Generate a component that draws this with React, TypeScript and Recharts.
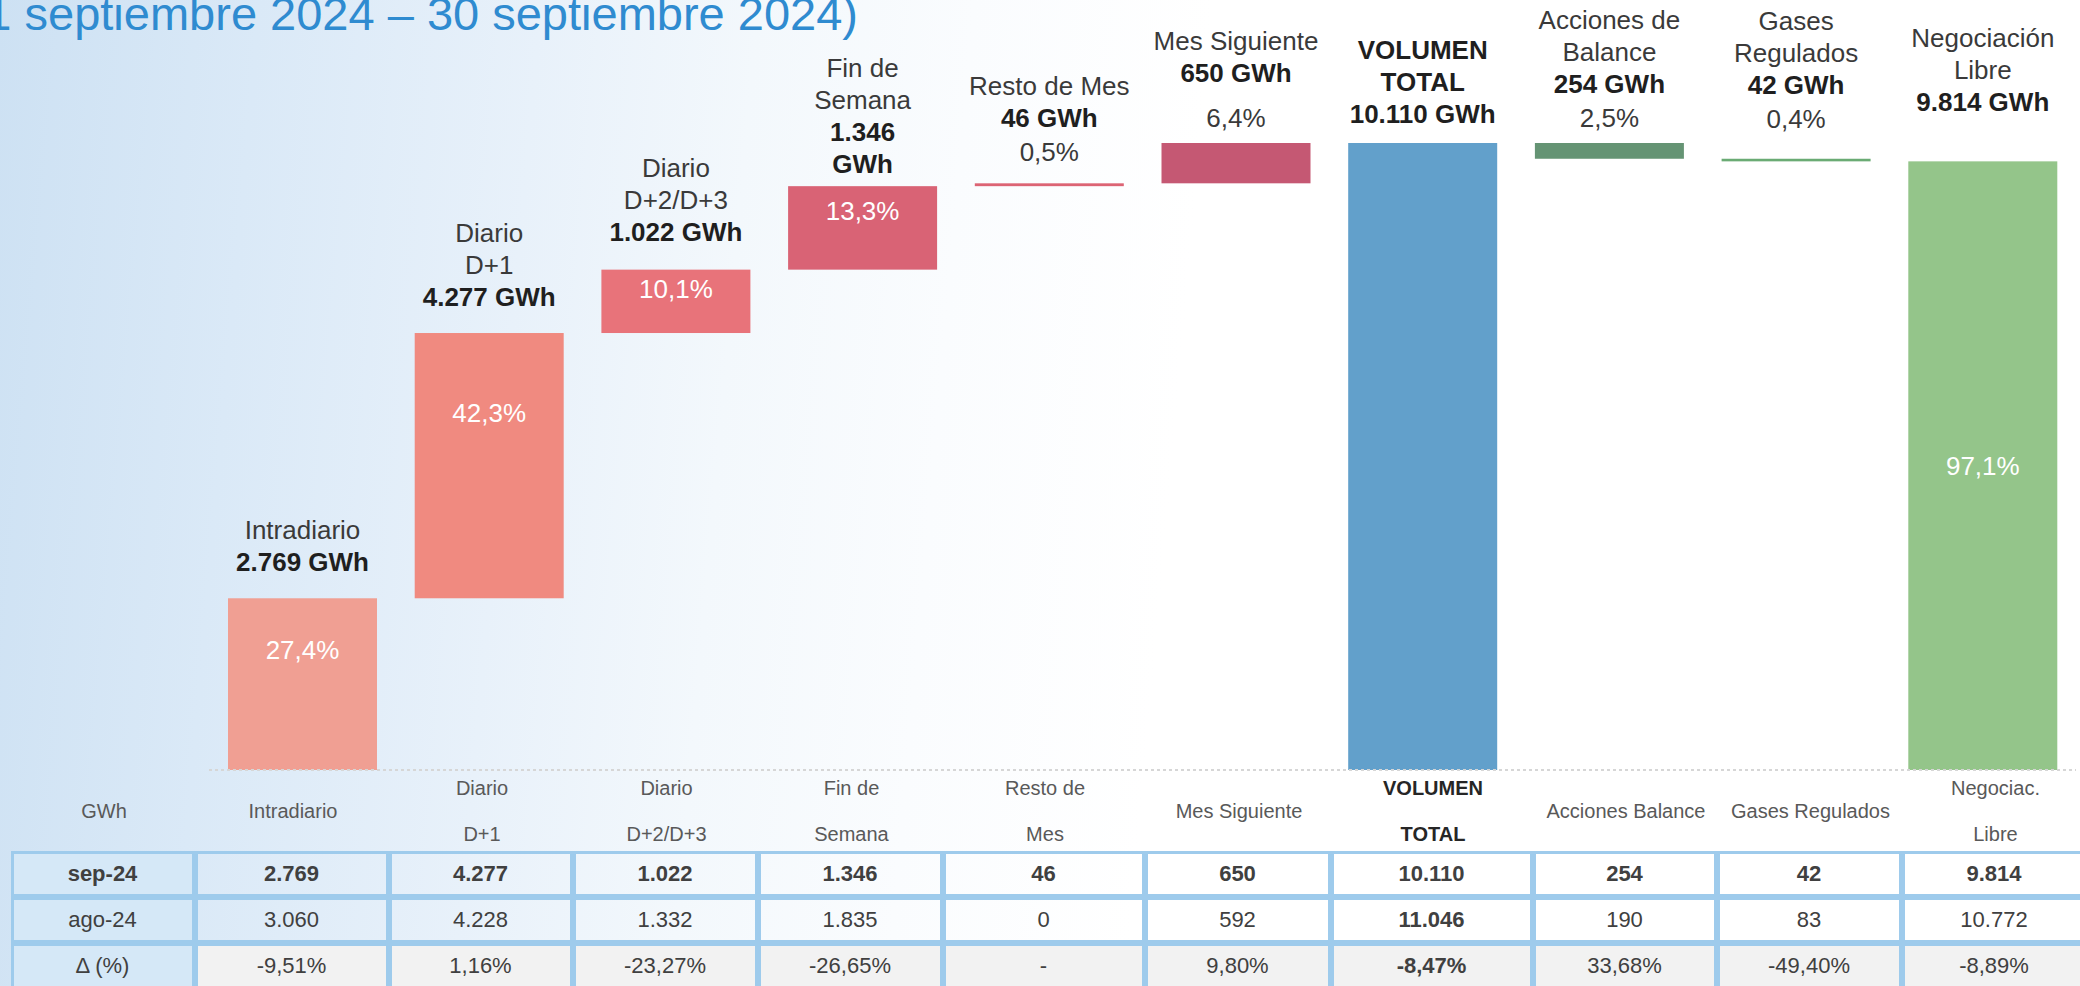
import { BarChart, Bar, XAxis, YAxis, Cell, ReferenceLine } from 'recharts';

// --- data ---
const categories = [
  'Intradiario', 'Diario D+1', 'Diario D+2/D+3', 'Fin de Semana', 'Resto de Mes',
  'Mes Siguiente', 'VOLUMEN TOTAL', 'Acciones de Balance', 'Gases Regulados', 'Negociación Libre',
];
const nameLines = [
  ['Intradiario'], ['Diario', 'D+1'], ['Diario', 'D+2/D+3'], ['Fin de', 'Semana'], ['Resto de Mes'],
  ['Mes Siguiente'], ['VOLUMEN', 'TOTAL'], ['Acciones de', 'Balance'], ['Gases', 'Regulados'], ['Negociación', 'Libre'],
];
const sep24 = [2769, 4277, 1022, 1346, 46, 650, 10110, 254, 42, 9814];
const steps = ['up', 'up', 'up', 'up', 'up', 'up', 'total', 'down', 'down', 'total'];
const shares = ['27,4%', '42,3%', '10,1%', '13,3%', '0,5%', '6,4%', '', '2,5%', '0,4%', '97,1%'];
const shareInside = [true, true, true, true, false, false, false, false, false, true];

const ago24 = [3060, 4228, 1332, 1835, 0, 592, 11046, 190, 83, 10772];
const deltas = ['-9,51%', '1,16%', '-23,27%', '-26,65%', '-', '9,80%', '-8,47%', '33,68%', '-49,40%', '-8,89%'];
const tableHeaders = [
  ['GWh'], ['Intradiario'], ['Diario', 'D+1'], ['Diario', 'D+2/D+3'], ['Fin de', 'Semana'], ['Resto de', 'Mes'],
  ['Mes Siguiente'], ['VOLUMEN', 'TOTAL'], ['Acciones Balance'], ['Gases Regulados'], ['Negociac.', 'Libre'],
];
const rowLabels = ['sep-24', 'ago-24', 'Δ (%)'];

// --- styles ---
const barColors = ['#f09f93', '#f08a80', '#e8737a', '#d96375', '#dc6474', '#c55873', '#62a0cb', '#659474', '#6aab74', '#94c58a'];
const labelGap = [36, 36, 38, 22, 31, 25, 29, 25, 40, 59];
const colWidths = [184, 194, 184, 185, 185, 202, 186, 202, 184, 185, 185];
const FONT = '"Liberation Sans", Arial, sans-serif';
const TOTAL_IDX = 6;

const fmt = (n: number) => String(n).replace(/\B(?=(\d{3})+(?!\d))/g, '.');

// waterfall: invisible base + visible segment
let running = 0;
const data = sep24.map((v, i) => {
  let base = 0;
  if (steps[i] === 'up') { base = running; running += v; }
  else if (steps[i] === 'total') { base = 0; running = v; }
  else { running -= v; base = running; }
  return { i, name: categories[i], base, value: v };
});

const WaterfallBar = (props: any) => {
  const { x, y, width, height } = props;
  const i = props.payload?.i ?? props.index;
  const valueLines = i === 3 ? [fmt(sep24[i]), 'GWh'] : [fmt(sep24[i]) + ' GWh'];
  const lines: { t: string; bold: boolean; gap: number }[] = [];
  nameLines[i].forEach(t => lines.push({ t, bold: i === TOTAL_IDX, gap: 32 }));
  valueLines.forEach(t => lines.push({ t, bold: true, gap: 32 }));
  if (shares[i] && !shareInside[i]) lines.push({ t: shares[i], bold: false, gap: i === 5 ? 45 : 34 });

  const placed: { t: string; bold: boolean; cy: number }[] = [];
  let cy = y - labelGap[i];
  for (let k = lines.length - 1; k >= 0; k--) {
    placed.unshift({ t: lines[k].t, bold: lines[k].bold, cy });
    cy -= lines[k].gap;
  }
  const insideY = y + height * (i === sep24.length - 1 ? 0.5 : 0.3);

  return (
    <g>
      <rect x={x} y={y} width={width} height={Math.max(height, 0)} fill={barColors[i]} />
      {placed.map((l, k) => (
        <text key={k} x={x + width / 2} y={l.cy} textAnchor="middle" dominantBaseline="central"
          fontFamily={FONT} fontSize={26} fontWeight={l.bold ? 700 : 400} fill={l.bold ? '#1f1f1f' : '#3a3a3a'}>
          {l.t}
        </text>
      ))}
      {shareInside[i] && (
        <text x={x + width / 2} y={insideY} textAnchor="middle" dominantBaseline="central"
          fontFamily={FONT} fontSize={26} fill="#ffffff">
          {shares[i]}
        </text>
      )}
    </g>
  );
};

const colLeft = colWidths.map((_, k) => 12 + colWidths.slice(0, k).reduce((a, b) => a + b, 0));
const ROW_TOP = 852;
const ROW_H = 46;
const BORDER = '#9ecbec';

export default function App() {
  const rows = [
    sep24.map(fmt),
    ago24.map(fmt),
    deltas,
  ];
  return (
    <div style={{
      position: 'fixed', left: 0, top: 0, width: 2080, height: 986, overflow: 'hidden',
      background: 'linear-gradient(95deg, #cde1f3 0%, #dae9f7 12%, #e8f1fa 25%, #f3f8fc 35%, #fafcfe 45%, #ffffff 56%)',
      fontFamily: FONT,
    }}>
      <svg width={2080} height={60} style={{ position: 'absolute', left: 0, top: 0 }}>
        <text x={858} y={30} textAnchor="end" fontFamily={FONT} fontSize={47} fill="#2f8bd0">
          1 septiembre 2024 – 30 septiembre 2024)
        </text>
      </svg>

      <div style={{ position: 'absolute', left: 0, top: 0 }}>
        <BarChart width={2080} height={790} data={data} margin={{ top: 143, right: 4, bottom: 20, left: 209 }}
          style={{ overflow: 'visible' }}>
          <XAxis dataKey="name" hide />
          <YAxis hide domain={[0, 10110]} />
          <ReferenceLine y={0} stroke="#d6d6d6" strokeDasharray="3 3" strokeWidth={2} />
          <Bar dataKey="base" stackId="w" fill="transparent" barSize={149} isAnimationActive={false} />
          <Bar dataKey="value" stackId="w" barSize={149} isAnimationActive={false} shape={WaterfallBar}>
            {data.map((d) => <Cell key={d.i} fill={barColors[d.i]} />)}
          </Bar>
        </BarChart>
      </div>

      {/* header labels of the table */}
      {tableHeaders.map((h, k) => (
        <div key={'h' + k} style={{
          position: 'absolute', left: colLeft[k], top: 773, width: colWidths[k], height: 76,
          display: 'flex', flexDirection: 'column', justifyContent: 'center', alignItems: 'center',
          fontSize: 20, lineHeight: '46px', color: k - 1 === TOTAL_IDX ? '#262626' : '#595959',
          fontWeight: k - 1 === TOTAL_IDX ? 700 : 400, whiteSpace: 'nowrap',
        }}>
          {h.map((t, j) => <div key={j}>{t}</div>)}
        </div>
      ))}

      {/* table body */}
      {rowLabels.map((lab, r) => (
        [lab, ...rows[r]].map((cell, k) => (
          <div key={r + '-' + k} style={{
            position: 'absolute', left: colLeft[k], top: ROW_TOP + r * ROW_H, width: colWidths[k], height: ROW_H,
            boxSizing: 'border-box', border: `3px solid ${BORDER}`, marginLeft: -1.5, marginTop: -1.5,
            background: k === 0 ? '#d5e8f7' : (r === 2 ? '#f2f2f2' : 'transparent'),
            display: 'flex', alignItems: 'center', justifyContent: 'center',
            fontSize: 22, color: '#404040',
            fontWeight: r === 0 || (k - 1 === TOTAL_IDX) ? 700 : 400,
          }}>
            {cell}
          </div>
        ))
      ))}
    </div>
  );
}
